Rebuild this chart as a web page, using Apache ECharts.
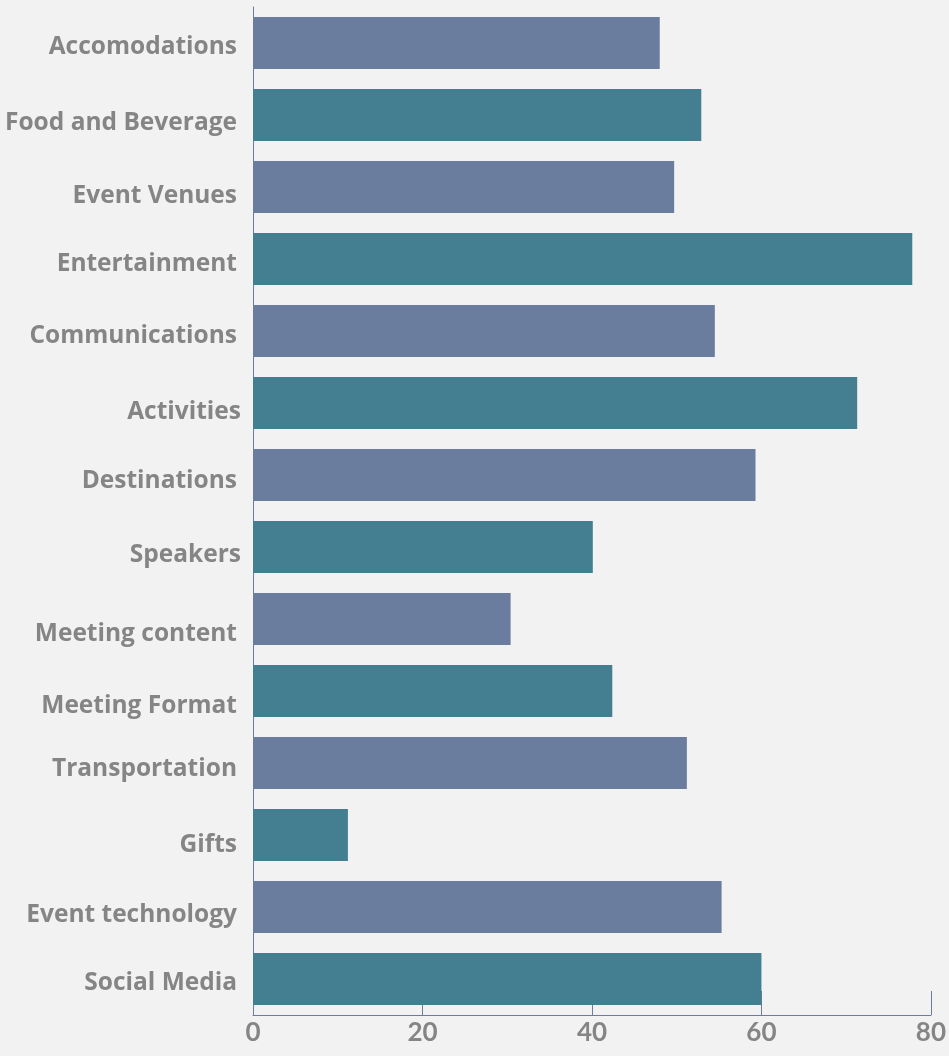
<!DOCTYPE html>
<html>
<head>
<meta charset="utf-8">
<script src="https://cdn.jsdelivr.net/npm/echarts@6/dist/echarts.min.js"></script>
<style>
  html, body { margin: 0; padding: 0; background: #f2f2f2; }
  #chart { width: 949px; height: 1056px; }
</style>
</head>
<body>
<div id="chart"></div>
<script>
// categories, top to bottom
var categories = ['Accomodations', 'Food and Beverage', 'Event Venues', 'Entertainment',
    'Communications', 'Activities', 'Destinations', 'Speakers', 'Meeting content',
    'Meeting Format', 'Transportation', 'Gifts', 'Event technology', 'Social Media'];
var values = [48.0, 52.9, 49.7, 77.8, 54.5, 71.3, 59.3, 40.1, 30.4, 42.4, 51.2, 11.2, 55.3, 60.0];
var xTicks = [0, 20, 40, 60, 80];

// the original labels sit a bit off their bands, nudge them (px down / px right)
var labelShiftY = [4.3, 7.8, 8.8, 5.3, 4.8, 8.8, 6.5, 7.8, 15.3, 15.3, 6.3, 10.3, 8.3, 4.3];
var labelShiftX = [0, 0, 0, 0, 0, 4, 0, 4, 0, 0, 0, 0, 0, 0];

var slate = '#6b7d9e';
var teal = '#437f91';

var chart = echarts.init(document.getElementById('chart'));

var rich = {};
categories.forEach(function (c, i) {
    rich['l' + i] = {
        color: '#858585',
        fontFamily: 'Open Sans',
        fontWeight: 'bold',
        fontSize: 24.5,
        padding: [labelShiftY[i] * 2, 4 - labelShiftX[i], 0, 0]
    };
});

var option = {
    backgroundColor: '#f2f2f2',
    animation: false,
    grid: { left: 253, right: 14, top: 7, bottom: 41, containLabel: false },
    xAxis: {
        type: 'value',
        min: xTicks[0],
        max: xTicks[xTicks.length - 1],
        interval: 20,
        axisLine: { show: true, lineStyle: { color: slate, width: 1 } },
        axisTick: { show: true, inside: true, length: 24, lineStyle: { color: slate, width: 1 } },
        splitLine: { show: false },
        axisLabel: {
            color: '#858585',
            fontFamily: 'Lato',
            fontWeight: 'bold',
            fontSize: 26,
            margin: 5
        }
    },
    yAxis: {
        type: 'category',
        data: categories,
        inverse: true,
        axisLine: { show: true, lineStyle: { color: slate, width: 1 } },
        axisTick: { show: false },
        axisLabel: {
            margin: 12,
            formatter: function (value, index) {
                return '{l' + index + '|' + value + '}';
            },
            rich: rich
        }
    },
    series: [{
        type: 'bar',
        data: values.map(function (v, i) {
            return { value: v, itemStyle: { color: i % 2 === 0 ? slate : teal } };
        }),
        barCategoryGap: '27.8%'
    }]
};

chart.setOption(option);
</script>
</body>
</html>
